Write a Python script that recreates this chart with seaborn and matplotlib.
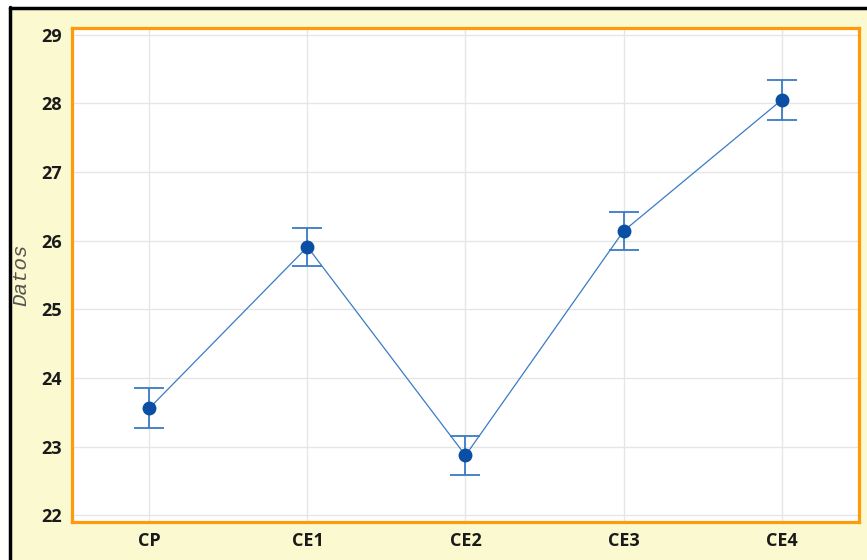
import matplotlib
matplotlib.use("Agg")
import matplotlib.pyplot as plt
from matplotlib.lines import Line2D
from matplotlib.patches import Rectangle
import pandas as pd
import seaborn as sns

# Medias por grupo y semiamplitud de las barras de error
grupos = ["CP", "CE1", "CE2", "CE3", "CE4"]
medias = [23.56, 25.91, 22.87, 26.14, 28.05]
errores = [0.29, 0.28, 0.28, 0.28, 0.285]
yticks = [22, 23, 24, 25, 26, 27, 28, 29]

amarillo = "#FBF9CF"
naranja = "#FF9A0D"
azul_linea = "#3A7BC4"
azul_punto = "#0A4FA3"

sns.set_theme(style="whitegrid")
plt.rcParams["font.family"] = ["Open Sans", "DejaVu Sans"]

df = pd.DataFrame({"grupo": grupos, "media": medias})

fig = plt.figure(figsize=(8.67, 5.6), dpi=100, facecolor="white")
fig.patches.append(Rectangle((10 / 867, 0), 1, 1 - 8 / 560, transform=fig.transFigure,
                             facecolor=amarillo, edgecolor="none", zorder=-10))
fig.lines.append(Line2D([10 / 867, 10 / 867], [0, 1 - 7 / 560], transform=fig.transFigure,
                        color="black", lw=2.5))
fig.lines.append(Line2D([10 / 867, 1], [1 - 8 / 560, 1 - 8 / 560], transform=fig.transFigure,
                        color="black", lw=2.5))

ax = fig.add_axes([72 / 867, 1 - 522 / 560, 787 / 867, 494 / 560])
ax.set_facecolor("white")

sns.pointplot(data=df, x="grupo", y="media", errorbar=None, color=azul_linea,
              linewidth=0.9, markers="o", markersize=0, ax=ax)
ax.errorbar(range(len(grupos)), medias, yerr=errores, fmt="none", ecolor=azul_linea,
            elinewidth=1.3, capsize=11, capthick=1.3, zorder=3)
ax.plot(range(len(grupos)), medias, "o", color=azul_punto, markersize=9, zorder=4)

ax.set_xlim(-0.49, 4.49)
ax.set_ylim(21.9, 29.1)
ax.set_yticks(yticks)
ax.grid(True, color="#E6E6E6", lw=1)

for s in ax.spines.values():
    s.set_visible(True)
    s.set_color(naranja)
    s.set_linewidth(2.3)
ax.tick_params(axis="both", colors=naranja, length=4, width=2, direction="out",
               labelcolor="#1a1a1a", labelsize=13, pad=3)
for lab in ax.get_xticklabels() + ax.get_yticklabels():
    lab.set_fontweight("bold")

ax.set_xlabel("")
ax.set_ylabel("Datos", fontsize=15, style="italic", color="#555555",
              family=["Liberation Mono", "DejaVu Sans Mono"], labelpad=8)

fig.savefig("out.png", dpi=100, facecolor=fig.get_facecolor())
